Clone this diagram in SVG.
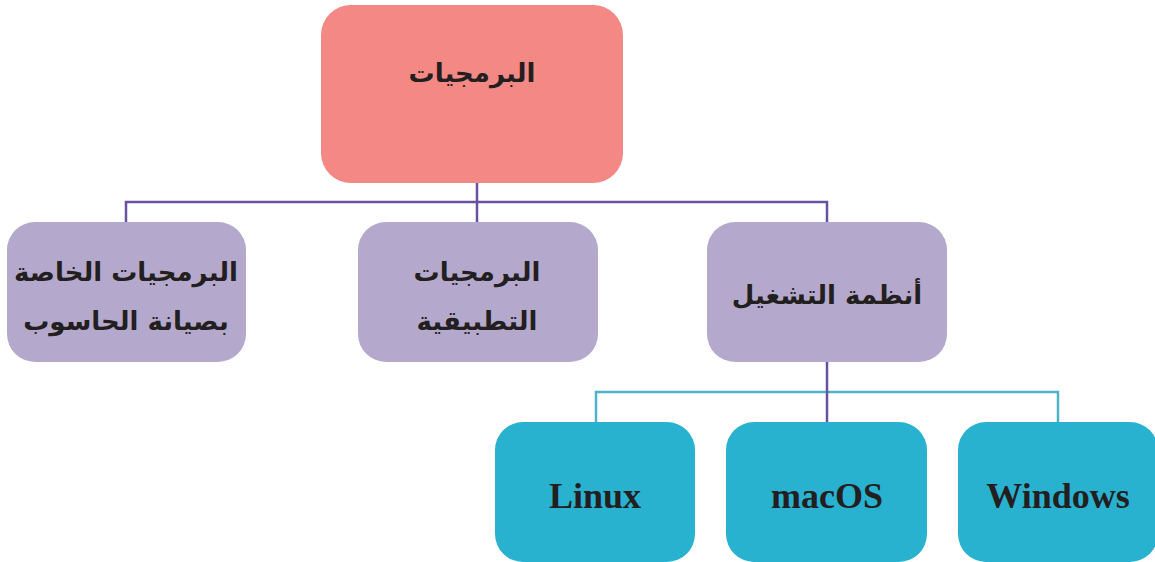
<svg xmlns="http://www.w3.org/2000/svg" width="1155" height="562" viewBox="0 0 1155 562">
<style>
.top{fill:#F38884}
.mid{fill:#B4A9CC}
.os{fill:#29B1D0}
.ar{font-family:"DejaVu Sans","Noto Sans",sans-serif;font-weight:bold;font-size:26px;fill:#231F20;text-anchor:middle;direction:rtl}
.en{font-family:"Liberation Serif",serif;font-weight:bold;font-size:36px;fill:#231F20;text-anchor:middle}
.lp{stroke:#6A51A0;stroke-width:2.5;fill:none}
.lt{stroke:#4EB3C8;stroke-width:2.5;fill:none}
</style>
<rect width="1155" height="562" fill="#FFFFFF"/>
<g id="connectors">
<path class="lp" d="M477 183V222M126 222V202H827V222"/>
<path class="lt" d="M596 422V392H1058V422"/>
<path class="lp" d="M827 362V422"/>
</g>
<g id="n-software">
<rect class="top" x="321" y="5" width="302" height="178" rx="30"/>
<text class="ar" x="472" y="82">البرمجيات</text>
</g>
<g id="n-maintenance">
<rect class="mid" x="7" y="222" width="239" height="140" rx="28"/>
<text class="ar" x="126" y="281">البرمجيات الخاصة</text>
<text class="ar" x="126" y="330">بصيانة الحاسوب</text>
</g>
<g id="n-applications">
<rect class="mid" x="358" y="222" width="240" height="140" rx="28"/>
<text class="ar" x="477" y="281">البرمجيات</text>
<text class="ar" x="477" y="330">التطبيقية</text>
</g>
<g id="n-os">
<rect class="mid" x="707" y="222" width="240" height="140" rx="28"/>
<text class="ar" x="827" y="304">أنظمة التشغيل</text>
</g>
<g id="n-linux">
<rect class="os" x="495" y="422" width="200" height="140" rx="28"/>
<text class="en" x="595" y="508">Linux</text>
</g>
<g id="n-macos">
<rect class="os" x="726" y="422" width="201" height="140" rx="28"/>
<text class="en" x="827" y="508">macOS</text>
</g>
<g id="n-windows">
<rect class="os" x="958" y="422" width="200" height="140" rx="28"/>
<text class="en" x="1058" y="508">Windows</text>
</g>
</svg>
